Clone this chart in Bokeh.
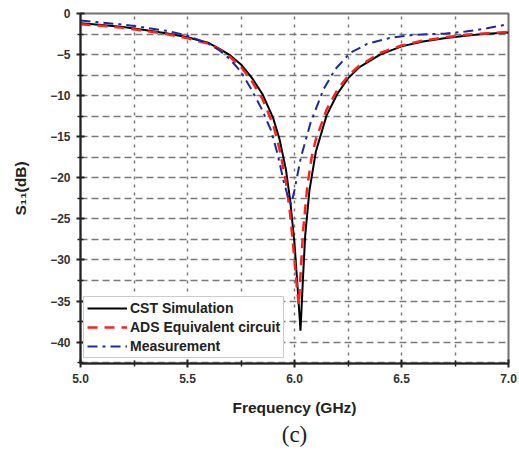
from bokeh.plotting import figure
from bokeh.models import Range1d, FixedTicker, PrintfTickFormatter, Legend, LegendItem, Title
from bokeh.embed import file_html
from bokeh.resources import INLINE

# ---- data ----
f_cst = [5.0, 5.1, 5.2, 5.3, 5.4, 5.5, 5.6, 5.65, 5.7, 5.75, 5.8, 5.85, 5.9, 5.93, 5.96, 5.98,
         6.0, 6.015, 6.028, 6.04, 6.05, 6.07, 6.1, 6.15, 6.2, 6.25, 6.3, 6.4, 6.5, 6.6,
         6.7, 6.8, 6.9, 7.0]
s_cst = [-1.2, -1.4, -1.65, -2.0, -2.4, -2.9, -3.6, -4.3, -5.1, -6.2, -7.8, -9.8, -12.7, -15.3,
         -19.0, -22.8, -28.0, -33.5, -38.6, -32.0, -27.0, -21.5, -16.8, -12.4, -9.8, -7.9,
         -6.6, -5.0, -4.0, -3.4, -3.0, -2.7, -2.45, -2.3]

f_ads = [5.0, 5.1, 5.2, 5.3, 5.4, 5.5, 5.6, 5.65, 5.7, 5.75, 5.8, 5.85, 5.9, 5.93, 5.96, 5.98,
         6.0, 6.01, 6.02, 6.03, 6.04, 6.06, 6.08, 6.1, 6.15, 6.2, 6.25, 6.3, 6.4, 6.5,
         6.6, 6.7, 6.8, 6.9, 7.0]
s_ads = [-1.3, -1.5, -1.75, -2.1, -2.5, -3.0, -3.7, -4.4, -5.3, -6.5, -8.2, -10.4, -13.5, -16.5,
         -20.5, -24.5, -30.0, -33.0, -35.5, -31.0, -26.5, -21.0, -17.5, -15.3, -11.7, -9.3,
         -7.6, -6.4, -4.8, -3.9, -3.3, -2.9, -2.6, -2.4, -2.25]

f_meas = [5.0, 5.1, 5.2, 5.3, 5.4, 5.5, 5.6, 5.65, 5.7, 5.75, 5.8, 5.85, 5.89, 5.92, 5.95, 5.975,
          5.985, 6.0, 6.03, 6.075, 6.136, 6.19, 6.26, 6.34, 6.45, 6.56, 6.7, 6.8, 6.9, 7.0]
s_meas = [-0.85, -1.1, -1.35, -1.7, -2.1, -2.7, -3.7, -4.5, -5.6, -7.1, -9.3, -11.8, -14.2, -17.0,
          -20.5, -22.8, -23.2, -21.5, -17.5, -13.3, -9.2, -6.8, -4.8, -3.7, -2.95, -2.6,
          -2.45, -2.2, -1.8, -1.3]

series_labels = ["CST Simulation", "ADS Equivalent circuit", "Measurement"]
x_major = [5.0, 5.5, 6.0, 6.5, 7.0]
x_minor = [5.25, 5.75, 6.25, 6.75]
y_major = [0, -5, -10, -15, -20, -25, -30, -35, -40]
y_minor = [-2.5, -7.5, -12.5, -17.5, -22.5, -27.5, -32.5, -37.5, -42.5]
x_title = "Frequency (GHz)"
y_title = "S\u2081\u2081(dB)"
caption = "(c)"

p = figure(width=518, height=452, output_backend="svg", toolbar_location=None,
           x_range=Range1d(5.0, 7.0), y_range=Range1d(-42.6, 0),
           min_border_left=80, min_border_right=10, min_border_top=13, min_border_bottom=89)

p.background_fill_color = "white"
p.border_fill_color = "white"
p.outline_line_color = "#707070"
p.outline_line_width = 2

# grids
for g, dash in ((p.xgrid, "3 5"), (p.ygrid, "7 4")):
    g.grid_line_color = "#7a7a7a"
    g.grid_line_dash = dash
    g.grid_line_width = 1.5
    g.minor_grid_line_color = "#7a7a7a"
    g.minor_grid_line_dash = dash
    g.minor_grid_line_width = 1.5

p.xaxis.ticker = FixedTicker(ticks=x_major, minor_ticks=x_minor)
p.yaxis.ticker = FixedTicker(ticks=y_major, minor_ticks=y_minor)
p.xaxis.formatter = PrintfTickFormatter(format="%.1f")

for ax in (p.xaxis, p.yaxis):
    ax.axis_line_color = "#222222"
    ax.axis_line_width = 2
    ax.major_tick_line_color = "#222222"
    ax.major_tick_line_width = 2
    ax.minor_tick_line_color = "#222222"
    ax.minor_tick_line_width = 1.5
    ax.major_tick_in = 4
    ax.major_tick_out = 4
    ax.minor_tick_in = 3
    ax.minor_tick_out = 3
    ax.major_label_text_font = "Liberation Sans"
    ax.major_label_text_font_style = "bold"
    ax.major_label_text_font_size = "12px"
    ax.major_label_text_color = "#333333"
    ax.axis_label_text_font = "Liberation Sans"
    ax.axis_label_text_font_style = "bold"
    ax.axis_label_text_font_size = "15.5px"
    ax.axis_label_text_color = "#222222"

p.xaxis.axis_label = x_title
p.yaxis.axis_label = y_title
p.xaxis.major_label_standoff = 6
p.xaxis.axis_label_standoff = 13
p.yaxis.major_label_standoff = 6
p.yaxis.axis_label_standoff = 18

r1 = p.line(f_cst, s_cst, line_color="black", line_width=2)
r2 = p.line(f_ads, s_ads, line_color="#ff2020", line_width=2.5, line_dash="10 7")
r3 = p.line(f_meas, s_meas, line_color="#1c2aa0", line_width=2, line_dash="10 5 3 5")

legend = Legend(items=[LegendItem(label=series_labels[0], renderers=[r1]),
                       LegendItem(label=series_labels[1], renderers=[r2]),
                       LegendItem(label=series_labels[2], renderers=[r3])],
                location=(3, 5))
legend.label_text_font = "Liberation Sans"
legend.label_text_font_style = "bold"
legend.label_text_font_size = "14px"
legend.label_text_color = "#222222"
legend.glyph_width = 40
legend.glyph_height = 16
legend.spacing = 3
legend.padding = 3
legend.margin = 0
legend.label_standoff = 3
legend.label_height = 16
legend.border_line_color = "#999999"
legend.border_line_width = 1.5
legend.background_fill_alpha = 1.0
p.add_layout(legend, "center")

cap = Title(text=caption, align="center", text_font="Liberation Serif",
            text_font_style="normal", text_font_size="23px", text_color="#222222",
            standoff=2)
p.add_layout(cap, "below")

open("out.html", "w").write(file_html(p, INLINE))
